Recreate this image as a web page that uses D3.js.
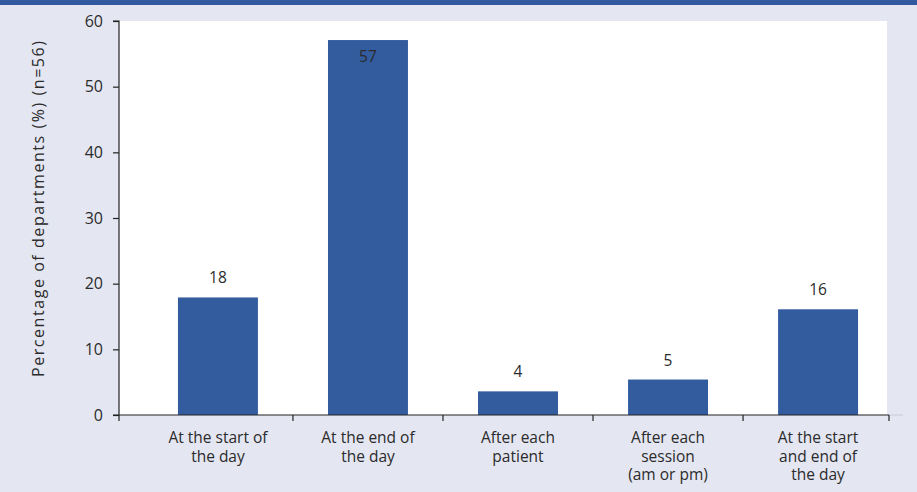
<!DOCTYPE html>
<html>
<head>
<meta charset="utf-8">
<script src="https://cdn.jsdelivr.net/npm/d3@7"></script>
<style>
  html, body { margin: 0; padding: 0; background: #e4e6f2; }
  svg { display: block; }
  text { font-family: "Open Sans", "DejaVu Sans", sans-serif; fill: #2b2b2b; }
</style>
</head>
<body>
<svg id="chart" width="917" height="492"></svg>
<script>
// Timing of cleaning, share of departments (n = 56)
const categories = [
  ["At the start of", "the day"],
  ["At the end of", "the day"],
  ["After each", "patient"],
  ["After each", "session", "(am or pm)"],
  ["At the start", "and end of", "the day"]
];
const percentages = [17.9, 57.1, 3.6, 5.4, 16.1];
const yTicks = [0, 10, 20, 30, 40, 50, 60];
const yTitle = "Percentage of departments (%) (n=56)";

const W = 917, H = 492;
const plot = { left: 119, right: 887, top: 21, bottom: 415 };
const barColor = "#335c9f";

const svg = d3.select("#chart");

// background and top band
svg.append("rect").attr("width", W).attr("height", H).attr("fill", "#e4e6f2");
svg.append("rect").attr("width", W).attr("height", 5).attr("fill", "#335a9e");

// white plotting area
svg.append("rect")
  .attr("x", plot.left).attr("y", plot.top)
  .attr("width", plot.right - plot.left).attr("height", plot.bottom - plot.top)
  .attr("fill", "#ffffff");

const idx = categories.map((d, i) => i);
const x = d3.scaleBand().domain(idx).range([143, 893]).paddingInner(0.467).paddingOuter(0.233);
const y = d3.scaleLinear().domain([0, 60]).range([plot.bottom, plot.top]);

// bars
svg.append("g").selectAll("rect")
  .data(percentages)
  .join("rect")
  .attr("x", (d, i) => x(i))
  .attr("width", x.bandwidth())
  .attr("y", d => y(d))
  .attr("height", d => y(0) - y(d))
  .attr("fill", barColor);

// value labels (placed inside the bar when it reaches the top)
svg.append("g").selectAll("text")
  .data(percentages)
  .join("text")
  .attr("x", (d, i) => x(i) + x.bandwidth() / 2)
  .attr("y", d => d > 50 ? y(d) + 22 : y(d) - 14)
  .attr("text-anchor", "middle")
  .attr("font-size", 15.5)
  .text(d => d3.format(".0f")(d));

// y axis
const yAxis = d3.axisLeft(y).tickValues(yTicks).tickSize(6).tickPadding(10);
const gy = svg.append("g").attr("transform", `translate(${plot.left},0)`).call(yAxis);
gy.select(".domain").attr("stroke", "#222").attr("stroke-width", 1.2).attr("d", `M-6,${plot.top}H0V${plot.bottom}`);
gy.selectAll(".tick line").attr("stroke", "#222").attr("stroke-width", 1.2);
gy.selectAll(".tick text").attr("font-size", 16).attr("font-family", "'Open Sans', sans-serif").attr("fill", "#2b2b2b");

// x axis line with separators between categories
const gx = svg.append("g");
gx.append("line")
  .attr("x1", plot.left - 6).attr("x2", 889)
  .attr("y1", plot.bottom).attr("y2", plot.bottom)
  .attr("stroke", "#222").attr("stroke-width", 1.2);
gx.append("line")
  .attr("x1", 889).attr("x2", 903)
  .attr("y1", plot.bottom).attr("y2", plot.bottom)
  .attr("stroke", "#c9cbd8").attr("stroke-width", 1);
const seps = [plot.left].concat(idx.slice(1).map(i => x(i) - x.step() * x.paddingInner() / 2), [889]);
gx.selectAll("line.sep")
  .data(seps)
  .join("line")
  .attr("class", "sep")
  .attr("x1", d => d).attr("x2", d => d)
  .attr("y1", plot.bottom).attr("y2", plot.bottom + 6)
  .attr("stroke", "#222").attr("stroke-width", 1.2);

// category labels, one text element per line
const catLines = categories.flatMap((lines, i) => lines.map((line, j) => ({ line, i, j })));
svg.append("g").selectAll("text")
  .data(catLines)
  .join("text")
  .attr("x", d => x(d.i) + x.bandwidth() / 2)
  .attr("y", d => 443 + d.j * 18.5)
  .attr("text-anchor", "middle")
  .attr("font-size", 15.5)
  .text(d => d.line);

// y axis title
svg.append("text")
  .attr("transform", `translate(44,${(plot.top + plot.bottom) / 2 - 9}) rotate(-90)`)
  .attr("text-anchor", "middle")
  .attr("font-size", 16)
  .attr("textLength", 336)
  .attr("lengthAdjust", "spacing")
  .text(yTitle);
</script>
</body>
</html>
